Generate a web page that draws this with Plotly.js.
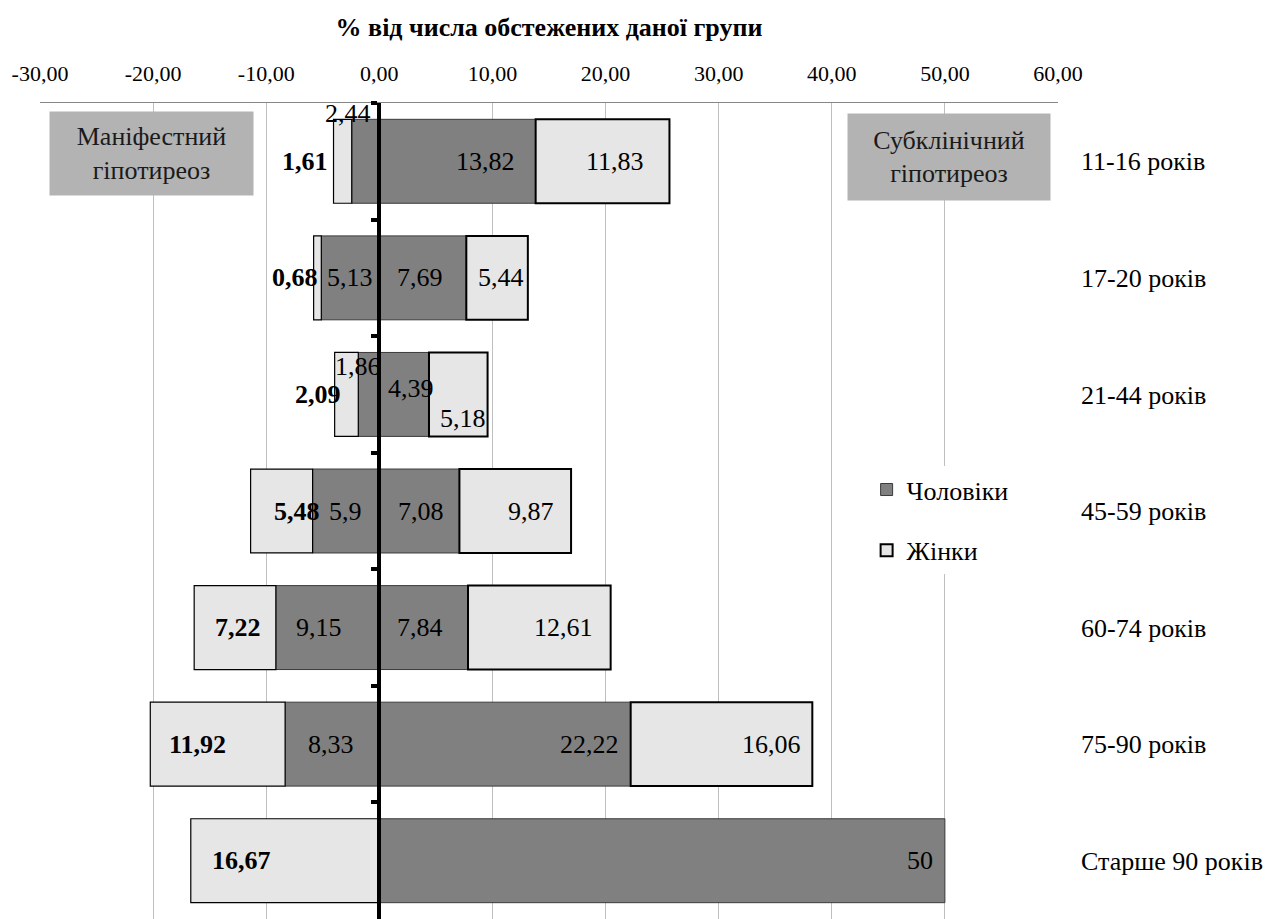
<!DOCTYPE html>
<html>
<head>
<meta charset="utf-8">
<script src="https://cdn.plot.ly/plotly-3.0.1.min.js"></script>
<style>html,body{margin:0;padding:0;background:#fff;}#chart{width:1271px;height:919px;}</style>
</head>
<body>
<div id="chart"></div>
<script>
// ---- data ----
const categories = ["11-16 років", "17-20 років", "21-44 років", "45-59 років", "60-74 років", "75-90 років", "Старше 90 років"];
// Маніфестний гіпотиреоз (left side)
const menManifest = [2.44, 5.13, 1.86, 5.9, 9.15, 8.33, null];
const womenManifest = [1.61, 0.68, 2.09, 5.48, 7.22, 11.92, 16.67];
// Субклінічний гіпотиреоз (right side)
const menSubclinical = [13.82, 7.69, 4.39, 7.08, 7.84, 22.22, 50];
const womenSubclinical = [11.83, 5.44, 5.18, 9.87, 12.61, 16.06, null];
const xTickValues = [-30, -20, -10, 0, 10, 20, 30, 40, 50, 60];
const seriesNames = ["Чоловіки", "Жінки"];
const boxLabels = ["Маніфестний<br>гіпотиреоз", "Субклінічний<br>гіпотиреоз"];

// ---- styling ----
const FONT = "'Liberation Serif', 'Times New Roman', serif";
const FS = 26;
const MEN_COLOR = "#808080";
const WOMEN_COLOR = "#e6e6e6";
// label nudges in pixels [dx, dy] (styling only)
const nudgeMenL = [[-18, 48], [0, 0], [-11, 28], [0, 0], [-9, 0], [-1, 0], null];
const nudgeWomenL = [[-38, 0], [-22, 0], [-28, 0], [15, 0], [3, 0], [-20, 0], [-44, 0]];
const nudgeMenR = [[28, 0], [-3, 0], [7, 6], [2, 0], [-4, 0], [84, 0], [258, 0]];
const nudgeWomenR = [[12, 0], [4, 0], [5, -24], [16, 0], [24, 0], [50, 0], null];

const neg = a => a.map(v => v == null ? null : -v);
const fmt = v => String(v).replace('.', ',');
const tickText = xTickValues.map(v => v.toFixed(2).replace('.', ','));

const common = {type: 'bar', orientation: 'h', y: categories, hoverinfo: 'skip', width: 0.72};
const menLine = {color: '#3a3a3a', width: 1};
const traces = [
  Object.assign({}, common, {x: neg(menManifest), name: seriesNames[0], legendgroup: 'm', legendrank: 1,
    yaxis: 'y', marker: {color: MEN_COLOR, line: menLine}}),
  Object.assign({}, common, {x: neg(womenManifest), name: seriesNames[1], legendgroup: 'w', showlegend: false,
    yaxis: 'y', marker: {color: WOMEN_COLOR, line: {color: '#000', width: 1.2}}}),
  Object.assign({}, common, {x: menSubclinical, name: seriesNames[0], legendgroup: 'm', showlegend: false,
    yaxis: 'y2', marker: {color: MEN_COLOR, line: menLine}}),
  Object.assign({}, common, {x: womenSubclinical, name: seriesNames[1], legendgroup: 'w', legendrank: 2,
    yaxis: 'y2', marker: {color: WOMEN_COLOR, line: {color: '#000', width: 2}}})
];

const annotations = [];
function addLabels(values, centerFn, nudges, bold) {
  values.forEach((v, i) => {
    if (v == null || !nudges[i]) return;
    annotations.push({
      x: centerFn(i), y: categories[i], xref: 'x', yref: 'y',
      text: bold ? '<b>' + fmt(v) + '</b>' : fmt(v),
      showarrow: false, xanchor: 'center', yanchor: 'middle',
      xshift: nudges[i][0], yshift: nudges[i][1],
      font: {family: FONT, size: FS, color: '#000'}
    });
  });
}
const val = v => v == null ? 0 : v;
addLabels(menManifest, i => -val(menManifest[i]) / 2, nudgeMenL, false);
addLabels(womenManifest, i => -(val(menManifest[i]) + womenManifest[i] / 2), nudgeWomenL, true);
addLabels(menSubclinical, i => menSubclinical[i] / 2, nudgeMenR, false);
addLabels(womenSubclinical, i => val(menSubclinical[i]) + val(womenSubclinical[i]) / 2, nudgeWomenR, false);

// category boxes
annotations.push({xref: 'paper', yref: 'paper', x: 0.1095, y: 0.9387, xanchor: 'center', yanchor: 'middle',
  text: boxLabels[0], showarrow: false, bgcolor: '#b3b3b3', width: 203, height: 83, borderpad: 0, align: 'center',
  font: {family: FONT, size: FS, color: '#1a1a1a'}});
annotations.push({xref: 'paper', yref: 'paper', x: 0.893, y: 0.934, xanchor: 'center', yanchor: 'middle',
  text: boxLabels[1], showarrow: false, bgcolor: '#b3b3b3', width: 202, height: 86, borderpad: 0, align: 'center',
  font: {family: FONT, size: FS, color: '#1a1a1a'}});

const layout = {
  width: 1271, height: 919,
  margin: {l: 40, r: 213, t: 103, b: 0},
  paper_bgcolor: '#fff', plot_bgcolor: '#fff',
  barmode: 'relative',
  font: {family: FONT, size: FS, color: '#000'},
  title: {text: '<b>% від числа обстежених даної групи</b>', font: {family: FONT, size: 26, color: '#000'},
    x: 0.5, xref: 'paper', xanchor: 'center', y: 1 - 27 / 919, yref: 'container', yanchor: 'middle'},
  xaxis: {side: 'top', range: [-30, 60], tickmode: 'array', tickvals: xTickValues, ticktext: tickText,
    showgrid: true, gridcolor: '#bfbfbf', gridwidth: 1, zeroline: false,
    showline: true, linecolor: '#868686', linewidth: 1, ticks: '', ticklabelstandoff: 12,
    tickfont: {family: FONT, size: 22, color: '#000'}, fixedrange: true},
  yaxis: {type: 'category', categoryarray: categories, categoryorder: 'array', range: [6.5, -0.5],
    anchor: 'free', position: 30 / 90, side: 'left',
    tickson: 'boundaries', ticks: 'outside', ticklen: 6, tickwidth: 4, tickcolor: '#000',
    showticklabels: false, showgrid: false, zeroline: false, showline: true, linecolor: '#000', linewidth: 4,
    fixedrange: true},
  yaxis2: {type: 'category', categoryarray: categories, categoryorder: 'array', range: [6.5, -0.5],
    overlaying: 'y', anchor: 'x', side: 'right', showgrid: false, zeroline: false, showline: false, ticks: '',
    ticklabelstandoff: 22, tickfont: {family: FONT, size: FS, color: '#000'}, fixedrange: true},
  legend: {x: 0.812, y: 0.555, xanchor: 'left', yanchor: 'top', bgcolor: '#fff', traceorder: 'grouped',
    tracegroupgap: 24, font: {family: FONT, size: FS, color: '#000'}},
  annotations: annotations,
  showlegend: true
};

Plotly.newPlot('chart', traces, layout, {displayModeBar: false, staticPlot: true});
</script>
</body>
</html>
